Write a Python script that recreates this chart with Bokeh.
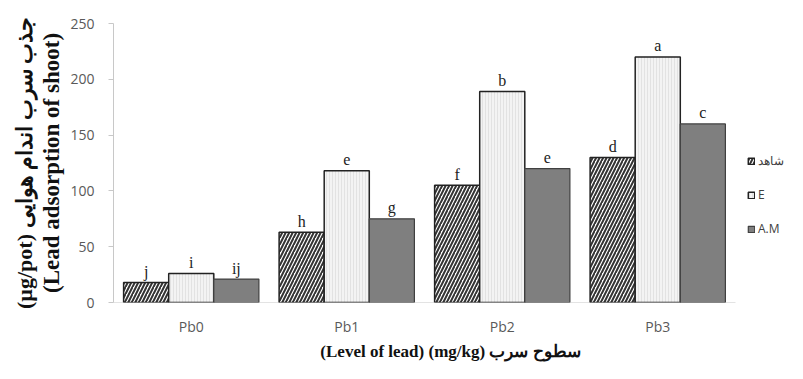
from bokeh.plotting import figure
from bokeh.models import (ColumnDataSource, Range1d, Legend, LegendItem,
                          LinearAxis, FixedTicker)
from bokeh.transform import dodge
from bokeh.core.properties import value
from bokeh.embed import file_html
from bokeh.resources import INLINE

# ---- data ----
levels = ["Pb0", "Pb1", "Pb2", "Pb3"]
control = [18, 63, 105, 130]     # شاهد
e_vals = [26, 118, 189, 220]     # E
am_vals = [21, 75, 120, 160]     # A.M
control_letters = ["j", "h", "f", "d"]
e_letters = ["i", "e", "b", "a"]
am_letters = ["ij", "g", "e", "c"]
series_names = ["شاهد", "E", "A.M"]
y_ticks = [0, 50, 100, 150, 200, 250]

n = len(levels)
xpos = [i + 0.5 for i in range(n)]
src = ColumnDataSource(dict(x=xpos, c=control, e=e_vals, m=am_vals,
                            cl=control_letters, el=e_letters, ml=am_letters))

# frame runs to the canvas edge so that the legend (inside it) is not clipped;
# categories take the first n units of the x range
x_end = n * 674 / 622
p = figure(width=787, height=363, x_range=Range1d(0, x_end),
           y_range=(0, 250), output_backend="svg", toolbar_location=None,
           min_border_left=113, min_border_right=0, min_border_top=23,
           min_border_bottom=60, outline_line_color=None)
p.xgrid.visible = False
p.ygrid.visible = False

ax_col = "#c8c8c8"
# baseline of the category axis (only under the categories)
p.segment(x0=-0.04, x1=n, y0=0, y1=0, line_color=ax_col, line_width=1)

w = 0.29
off = 0.29
r1 = p.vbar(x=dodge("x", -off), top="c", width=w, source=src,
            fill_color="white", line_color="#222222", line_width=1.5,
            hatch_pattern="/", hatch_color="#333333", hatch_scale=7, hatch_weight=2)
r2 = p.vbar(x=dodge("x", 0), top="e", width=w, source=src,
            fill_color="#f3f3f3", line_color="#222222", line_width=1.5,
            hatch_pattern="|", hatch_color="#d6d6d6", hatch_scale=3, hatch_weight=0.6)
r3 = p.vbar(x=dodge("x", off), top="m", width=w, source=src,
            fill_color="#7f7f7f", line_color="#404040", line_width=1.2)

for col, lab, dx in (("c", "cl", -off), ("e", "el", 0), ("m", "ml", off)):
    p.text(x=dodge("x", dx), y=col, text=lab, source=src,
           text_align="center", text_baseline="alphabetic", y_offset=-11,
           text_font=value("Liberation Serif"), text_font_size="16px",
           text_color="#222222")

# y axis
p.yaxis.ticker = FixedTicker(ticks=y_ticks)
p.yaxis.axis_line_color = ax_col
p.yaxis.major_tick_line_color = ax_col
p.yaxis.major_tick_out = 5
p.yaxis.major_tick_in = 0
p.yaxis.minor_tick_line_color = None
p.yaxis.major_label_text_font = "Open Sans"
p.yaxis.major_label_text_font_size = "14px"
p.yaxis.major_label_text_color = "#595959"
p.yaxis.major_label_standoff = 14
p.yaxis.axis_label = "(Lead adsorption of shoot)"
p.yaxis.axis_label_text_font = "Liberation Serif"
p.yaxis.axis_label_text_font_style = "bold"
p.yaxis.axis_label_text_font_size = "23px"
p.yaxis.axis_label_text_color = "#111111"
p.yaxis.axis_label_standoff = 3

ax2 = LinearAxis(ticker=FixedTicker(ticks=[]), axis_line_color=None,
                 major_tick_line_color=None, minor_tick_line_color=None,
                 major_label_text_font_size="0px",
                 axis_label="(µg/pot) جذب سرب اندام هوایی",
                 axis_label_text_font="Liberation Serif",
                 axis_label_text_font_style="bold",
                 axis_label_text_font_size="22px",
                 axis_label_text_color="#111111",
                 axis_label_standoff=0)
p.add_layout(ax2, "left")

# x axis
p.xaxis.ticker = FixedTicker(ticks=xpos)
p.xaxis.major_label_overrides = {x: lab for x, lab in zip(xpos, levels)}
p.xaxis.axis_line_color = None
p.xaxis.major_tick_line_color = None
p.xaxis.minor_tick_line_color = None
p.xaxis.major_label_text_font = "Open Sans"
p.xaxis.major_label_text_font_size = "14px"
p.xaxis.major_label_text_color = "#595959"
p.xaxis.major_label_standoff = 8
p.xaxis.axis_label = "(Level of lead) (mg/kg) سطوح سرب"
p.xaxis.axis_label_text_font = "Liberation Serif"
p.xaxis.axis_label_text_font_style = "bold"
p.xaxis.axis_label_text_font_size = "17px"
p.xaxis.axis_label_text_color = "#111111"
p.xaxis.axis_label_standoff = 3

legend = Legend(items=[LegendItem(label=series_names[0], renderers=[r1]),
                       LegendItem(label=series_names[1], renderers=[r2]),
                       LegendItem(label=series_names[2], renderers=[r3])],
                location=(634, 65), orientation="vertical",
                glyph_width=8, glyph_height=8, label_height=14, spacing=17,
                label_standoff=3, padding=0, margin=0,
                border_line_color=None, background_fill_color=None,
                label_text_font="Open Sans", label_text_font_size="12px",
                label_text_color="#404040")
p.add_layout(legend, "center")

open("out.html", "w").write(file_html(p, INLINE))
